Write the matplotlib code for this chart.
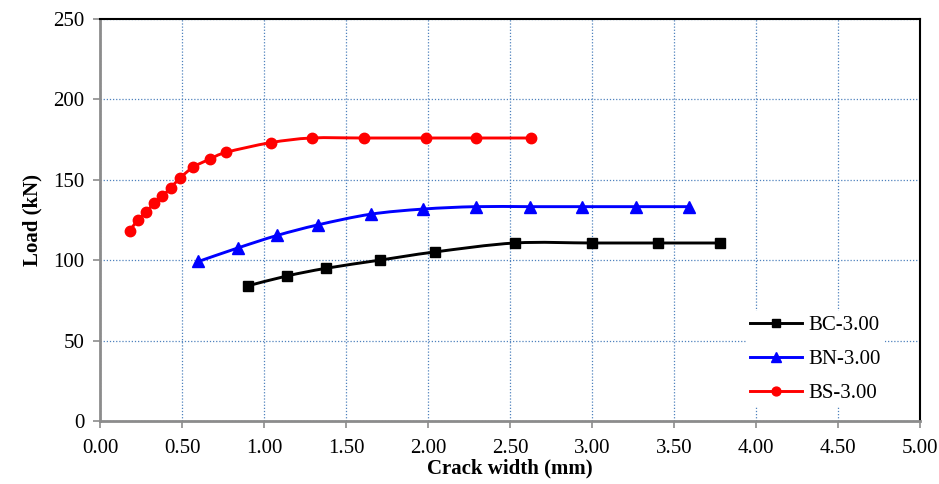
import matplotlib
matplotlib.use("Agg")
from matplotlib import pyplot as plt
from matplotlib.path import Path
from matplotlib.patches import PathPatch
from matplotlib.lines import Line2D
import numpy as np

# crack width (mm) and load (kN)
bc_width = [0.90, 1.14, 1.38, 1.71, 2.04, 2.53, 3.00, 3.40, 3.78]
bc_load = [84.0, 90.2, 95.0, 100.1, 105.1, 110.7, 110.7, 110.7, 110.7]

bn_width = [0.60, 0.84, 1.08, 1.33, 1.65, 1.97, 2.29, 2.62, 2.94, 3.27, 3.59]
bn_load = [99.2, 107.6, 115.4, 122.0, 128.6, 131.8, 133.3, 133.3, 133.3, 133.3, 133.3]

bs_width = [0.18, 0.23, 0.28, 0.33, 0.38, 0.43, 0.49, 0.57, 0.67, 0.77,
            1.04, 1.29, 1.61, 1.99, 2.29, 2.63]
bs_load = [118.0, 125.0, 129.8, 135.4, 139.9, 144.9, 151.3, 158.0, 162.9, 167.1,
           173.1, 176.0, 176.0, 176.0, 176.0, 176.0]

series = [
    ("BC-3.00", bc_width, bc_load, "black", "s", 6.6),
    ("BN-3.00", bn_width, bn_load, "blue", "^", 8.0),
    ("BS-3.00", bs_width, bs_load, "red", "o", 7.5),
]


def smooth_path(x, y):
    # excel style smoothed line: cubic bezier through every point
    p = np.column_stack([x, y])
    n = len(p)
    verts = [p[0]]
    codes = [Path.MOVETO]
    for i in range(n - 1):
        p0 = p[i - 1] if i > 0 else p[i]
        p3 = p[i + 2] if i + 2 < n else p[i + 1]
        c1 = p[i] + (p[i + 1] - p0) / 6.0
        c2 = p[i + 1] - (p3 - p[i]) / 6.0
        verts += [c1, c2, p[i + 1]]
        codes += [Path.CURVE4] * 3
    return Path(verts, codes)


plt.rcParams.update({
    "font.family": ["Liberation Serif", "DejaVu Serif"],
    "font.size": 15,
})

fig = plt.figure(figsize=(9.39, 4.84), dpi=100)
ax = fig.add_axes([0.1065, 0.1302, 0.8733, 0.8305])

handles = []
for label, xs, ys, col, mk, ms in series:
    ax.add_patch(PathPatch(smooth_path(xs, ys), facecolor="none", edgecolor=col,
                           lw=2.1, zorder=3))
    ax.plot(xs, ys, linestyle="none", marker=mk, markersize=ms, color=col, zorder=4)
    handles.append(Line2D([], [], color=col, lw=2.1, marker=mk, markersize=ms * 0.85))

ax.set_xlim(0, 5)
ax.set_ylim(0, 250)
ax.set_xticks(np.arange(0, 5.01, 0.5))
ax.set_yticks(np.arange(0, 251, 50))
ax.xaxis.set_major_formatter(matplotlib.ticker.FormatStrFormatter("%.2f"))

ax.grid(True, color="#4F81BD", linestyle=(0, (1, 1.5)), linewidth=0.9, zorder=0)
ax.set_axisbelow(True)

for s in ["left", "bottom"]:
    ax.spines[s].set_color("#8c8c8c")
    ax.spines[s].set_linewidth(2.0)
for s in ["top", "right"]:
    ax.spines[s].set_color("black")
    ax.spines[s].set_linewidth(1.5)
ax.tick_params(direction="out", length=5, width=1.2, color="#8c8c8c", labelsize=15)
ax.tick_params(axis="y", pad=6)
ax.tick_params(axis="x", pad=8)

ax.set_xlabel("Crack width (mm)", fontsize=15, fontweight="bold", labelpad=0)
ax.set_ylabel("Load (kN)", fontsize=15, fontweight="bold", labelpad=8)

leg = ax.legend(handles, ["BC-3.00", "BN-3.00", "BS-3.00"], loc="lower right",
                bbox_to_anchor=(0.970, 0.008), fontsize=15, handlelength=2.5,
                handletextpad=0.3, labelspacing=0.7, borderpad=0.2,
                frameon=True, fancybox=False, framealpha=1.0)
leg.get_frame().set_edgecolor("none")
leg.get_frame().set_facecolor("white")

fig.savefig("out.png", dpi=100)
